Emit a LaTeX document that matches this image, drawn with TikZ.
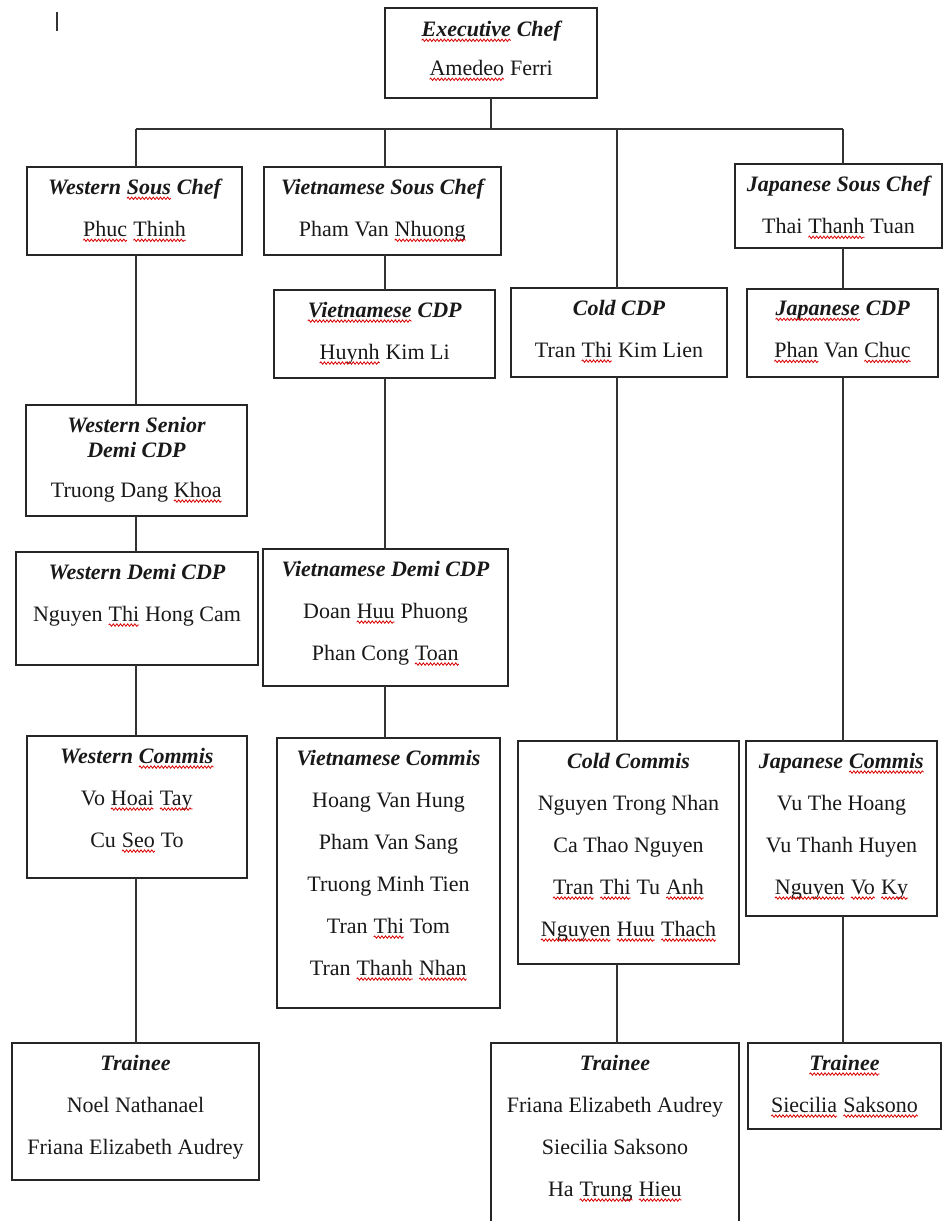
\documentclass[tikz,border=0pt]{standalone}
\usepackage{fontspec}
\setmainfont{Liberation Serif}
\usetikzlibrary{decorations.pathmorphing}
\tikzset{
  box/.style={draw=black!85, line width=1.6pt, inner sep=0pt, outer sep=0pt, fill=white},
  conn/.style={draw=black!80, line width=1.7pt},
  lbl/.style={anchor=north, inner sep=0pt, outer sep=0pt, align=center, text=black!90,
    font=\fontsize{22}{25}\selectfont},
  sqline/.style={draw=red!85!black, line width=0.8pt, decorate,
    decoration={snake, amplitude=1.2pt, segment length=3.6pt}}
}
\newcommand\sq[1]{\tikz[baseline=(sqw.base)]{\node[inner sep=0pt, outer sep=0pt, anchor=base] (sqw) {#1};\draw[sqline] ([yshift=-3.8pt]sqw.base west) -- ([yshift=-3.8pt]sqw.base east);}}
\newcommand\ttl[1]{{\bfseries\itshape #1}}
\newcommand\mkbox[5]{\node[box, minimum width={(#3-#2)*1pt}, minimum height={(#5-#4)*1pt}] (#1) at ({(#2+#3)/2},{(#4+#5)/2}) {};}
\begin{document}
\begin{tikzpicture}[x=1pt, y=-1pt]
\useasboundingbox (0,0) rectangle (943,1221);
\clip (0,0) rectangle (943,1221);
\fill[white] (0,0) rectangle (943,1221);
% column coordinates
\coordinate (colW) at (136,0);
\coordinate (colV) at (385,0);
\coordinate (colC) at (617,0);
\coordinate (colJ) at (843,0);
\coordinate (bar) at (491,129);
% cursor mark
\coordinate (cur) at (57,12);
\draw[conn, line width=1.4pt] (cur) -- ++(0,19);
% boxes
\mkbox{exec}{385}{597}{8}{98}
\mkbox{ws}{27}{242}{167}{255}
\mkbox{vs}{264}{501}{167}{255}
\mkbox{js}{735}{942}{164}{248}
\mkbox{vcdp}{274}{495}{290}{378}
\mkbox{ccdp}{511}{727}{288}{377}
\mkbox{jcdp}{747}{938}{289}{377}
\mkbox{wsd}{26}{247}{405}{516}
\mkbox{wd}{16}{258}{552}{665}
\mkbox{vd}{263}{508}{549}{686}
\mkbox{wc}{27}{247}{736}{878}
\mkbox{vc}{277}{500}{738}{1008}
\mkbox{cc}{518}{739}{741}{964}
\mkbox{jc}{746}{937}{741}{916}
\mkbox{wt}{12}{259}{1043}{1180}
\mkbox{ct}{491}{739}{1043}{1240}
\mkbox{jt}{748}{941}{1043}{1129}
% connectors
\draw[conn] (exec.south) -- (exec.south |- bar);
\draw[conn] (colW |- bar) -- (colJ |- bar);
\draw[conn] (colW |- bar) -- (colW |- ws.north);
\draw[conn] (colV |- bar) -- (colV |- vs.north);
\draw[conn] (colC |- bar) -- (colC |- ccdp.north);
\draw[conn] (colJ |- bar) -- (colJ |- js.north);
\draw[conn] (colW |- ws.south) -- (colW |- wsd.north);
\draw[conn] (colW |- wsd.south) -- (colW |- wd.north);
\draw[conn] (colW |- wd.south) -- (colW |- wc.north);
\draw[conn] (colW |- wc.south) -- (colW |- wt.north);
\draw[conn] (colV |- vs.south) -- (colV |- vcdp.north);
\draw[conn] (colV |- vcdp.south) -- (colV |- vd.north);
\draw[conn] (colV |- vd.south) -- (colV |- vc.north);
\draw[conn] (colC |- ccdp.south) -- (colC |- cc.north);
\draw[conn] (colC |- cc.south) -- (colC |- ct.north);
\draw[conn] (colJ |- js.south) -- (colJ |- jcdp.north);
\draw[conn] (colJ |- jcdp.south) -- (colJ |- jc.north);
\draw[conn] (colJ |- jc.south) -- (colJ |- jt.north);
% labels
\node[lbl] (execT) at ([yshift=-13pt]exec.north) {\ttl{\sq{Executive} Chef}\\[14pt]\sq{Amedeo} Ferri};
\node[lbl] (wsT) at ([yshift=-12pt]ws.north) {\ttl{Western \sq{Sous} Chef}\\[17pt]\sq{Phuc} \sq{Thinh}};
\node[lbl] (vsT) at ([yshift=-12pt]vs.north) {\ttl{Vietnamese Sous Chef}\\[17pt]Pham Van \sq{Nhuong}};
\node[lbl] (jsT) at ([yshift=-12pt]js.north) {\ttl{Japanese Sous Chef}\\[17pt]Thai \sq{Thanh} Tuan};
\node[lbl] (vcdpT) at ([yshift=-12pt]vcdp.north) {\ttl{\sq{Vietnamese} CDP}\\[17pt]\sq{Huynh} Kim Li};
\node[lbl] (ccdpT) at ([yshift=-12pt]ccdp.north) {\ttl{Cold CDP}\\[17pt]Tran \sq{Thi} Kim Lien};
\node[lbl] (jcdpT) at ([yshift=-12pt]jcdp.north) {\ttl{\sq{Japanese} CDP}\\[17pt]\sq{Phan} Van \sq{Chuc}};
\node[lbl] (wsdT) at ([yshift=-12pt]wsd.north) {\ttl{Western Senior}\\\ttl{Demi CDP}\\[15pt]Truong Dang \sq{Khoa}};
\node[lbl] (wdT) at ([yshift=-12pt]wd.north) {\ttl{Western Demi CDP}\\[17pt]Nguyen \sq{Thi} Hong Cam};
\node[lbl] (vdT) at ([yshift=-12pt]vd.north) {\ttl{Vietnamese Demi CDP}\\[17pt]Doan \sq{Huu} Phuong\\[17pt]Phan Cong \sq{Toan}};
\node[lbl] (wcT) at ([yshift=-12pt]wc.north) {\ttl{Western \sq{Commis}}\\[17pt]Vo \sq{Hoai} \sq{Tay}\\[17pt]Cu \sq{Seo} To};
\node[lbl] (vcT) at ([yshift=-12pt]vc.north) {\ttl{Vietnamese Commis}\\[17pt]Hoang Van Hung\\[17pt]Pham Van Sang\\[17pt]Truong Minh Tien\\[17pt]Tran \sq{Thi} Tom\\[17pt]Tran \sq{Thanh} \sq{Nhan}};
\node[lbl] (ccT) at ([yshift=-12pt]cc.north) {\ttl{Cold Commis}\\[17pt]Nguyen Trong Nhan\\[17pt]Ca Thao Nguyen\\[17pt]\sq{Tran} \sq{Thi} Tu \sq{Anh}\\[17pt]\sq{Nguyen} \sq{Huu} \sq{Thach}};
\node[lbl] (jcT) at ([yshift=-12pt]jc.north) {\ttl{Japanese \sq{Commis}}\\[17pt]Vu The Hoang\\[17pt]Vu Thanh Huyen\\[17pt]\sq{Nguyen} \sq{Vo} \sq{Ky}};
\node[lbl] (wtT) at ([yshift=-12pt]wt.north) {\ttl{Trainee}\\[17pt]Noel Nathanael\\[17pt]Friana Elizabeth Audrey};
\node[lbl] (ctT) at ([yshift=-12pt]ct.north) {\ttl{Trainee}\\[17pt]Friana Elizabeth Audrey\\[17pt]Siecilia Saksono\\[17pt]Ha \sq{Trung} \sq{Hieu}};
\node[lbl] (jtT) at ([yshift=-12pt]jt.north) {\ttl{\sq{Trainee}}\\[17pt]\sq{Siecilia} \sq{Saksono}};
\end{tikzpicture}
\end{document}
